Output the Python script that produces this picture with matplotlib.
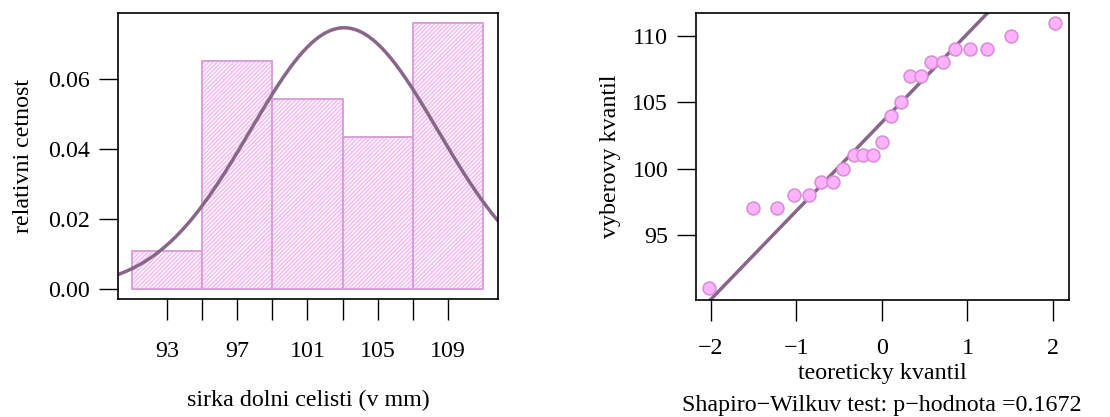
import numpy as np
import matplotlib
matplotlib.use("Agg")
import matplotlib.pyplot as plt
from statistics import NormalDist

plt.rcParams['font.family'] = ['Liberation Serif', 'DejaVu Serif']
plt.rcParams['hatch.linewidth'] = 1.1

# jaw width sample (mm), sorted
sirka = [91, 97, 97, 98, 98, 99, 99, 100, 101, 101, 101, 102,
         104, 105, 107, 107, 108, 108, 109, 109, 109, 110, 111]
breaks = [91, 95, 99, 103, 107, 111]
xlabels_hist = [93, 97, 101, 105, 109]
yticks_hist = [0.00, 0.02, 0.04, 0.06]
yticks_qq = [95, 100, 105, 110]
xticks_qq = [-2, -1, 0, 1, 2]
p_value = 0.1672

line_col = '#886688'
edge_col = '#d8a0d8'
hatch_col = '#f8b8f8'
pt_fill = '#ffb3ff'
pt_edge = '#d890d8'
fs = 17.3

fig = plt.figure(figsize=(11.1, 4.17), dpi=100)

# ---- histogram (right-closed bins like R's hist) ----
ax1 = fig.add_axes([118/1110, 1-299/417, 380/1110, 286/417])
x = np.array(sirka)
counts = []
for i in range(len(breaks) - 1):
    lo, hi = breaks[i], breaks[i+1]
    if i == 0:
        counts.append(np.sum((x >= lo) & (x <= hi)))
    else:
        counts.append(np.sum((x > lo) & (x <= hi)))
dens = np.array(counts) / (len(sirka) * np.diff(breaks))
# hatch layer, then outline layer
ax1.bar(breaks[:-1], dens, width=np.diff(breaks), align='edge',
        facecolor='white', edgecolor=hatch_col, hatch='////////', linewidth=0)
ax1.bar(breaks[:-1], dens, width=np.diff(breaks), align='edge',
        facecolor='none', edgecolor=edge_col, linewidth=1.4)
m = np.mean(sirka)
s = np.std(sirka, ddof=1)
xx = np.linspace(89, 113, 300)
ax1.plot(xx, np.exp(-(xx-m)**2/(2*s**2))/(s*np.sqrt(2*np.pi)), color=line_col, lw=2.5)
ax1.set_xlim(90.21, 111.85)
ax1.set_ylim(-0.0029, 0.0789)
ax1.set_xticks(list(range(93, 110, 2)))
ax1.set_xticklabels([str(v) if v in xlabels_hist else '' for v in range(93, 110, 2)])
ax1.set_yticks(yticks_hist)
ax1.set_yticklabels(['%.2f' % v for v in yticks_hist])
ax1.tick_params(axis='x', length=15, width=1, pad=15, labelsize=fs)
ax1.tick_params(axis='y', length=14, width=1, pad=6, labelsize=fs)
ax1.set_xlabel('sirka dolni celisti (v mm)', fontsize=fs, labelpad=20)
ax1.set_ylabel('relativni cetnost', fontsize=fs, labelpad=10)

# ---- QQ plot ----
ax2 = fig.add_axes([696/1110, 1-300/417, 373/1110, 287/417])
n = len(sirka)
a = 3/8 if n <= 10 else 0.5
pp = (np.arange(1, n+1) - a) / (n + 1 - 2*a)
nd = NormalDist()
teor = [nd.inv_cdf(p) for p in pp]
ax2.scatter(teor, sirka, s=85, facecolor=pt_fill, edgecolor=pt_edge, linewidth=1.2, zorder=3)
q1, q3 = np.percentile(sirka, [25, 75])
z1, z3 = nd.inv_cdf(0.25), nd.inv_cdf(0.75)
slope = (q3 - q1) / (z3 - z1)
inter = q1 - slope * z1
xl = np.array([-3, 3])
ax2.plot(xl, inter + slope*xl, color=line_col, lw=2.5, zorder=2)
ax2.set_xlim(-2.175, 2.187)
ax2.set_ylim(90.1, 111.73)
ax2.set_xticks(xticks_qq)
ax2.set_xticklabels(['\u2212%d' % -v if v < 0 else str(v) for v in xticks_qq])
ax2.set_yticks(yticks_qq)
ax2.tick_params(axis='x', length=15, width=1, pad=12, labelsize=fs)
ax2.tick_params(axis='y', length=14, width=1, pad=6, labelsize=fs)
ax2.set_xlabel('teoreticky kvantil', fontsize=fs, labelpad=3)
ax2.set_ylabel('vyberovy kvantil', fontsize=fs, labelpad=8)
fig.text(882/1110, 1-405/417, 'Shapiro\u2212Wilkuv test: p\u2212hodnota =%.4f' % p_value,
         fontsize=fs, ha='center', va='center')

for ax in (ax1, ax2):
    for sp in ax.spines.values():
        sp.set_linewidth(1.2)

fig.savefig('out.png', dpi=100)
